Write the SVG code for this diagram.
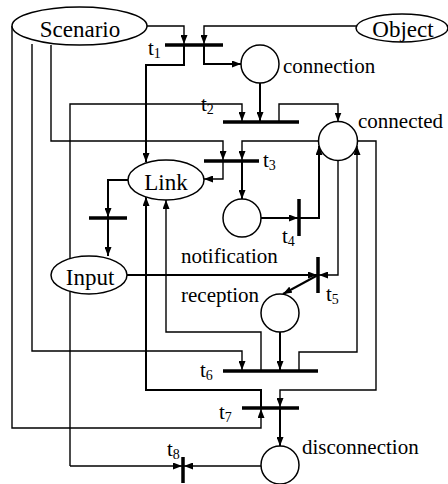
<svg xmlns="http://www.w3.org/2000/svg" width="448" height="484" viewBox="0 0 448 484">
<style>
.c{fill:none;stroke:#000;stroke-width:1.4}
.k{fill:none;stroke:#000;stroke-width:2}
.n{fill:#fff;stroke:#000;stroke-width:1.5}
.b{stroke:#000;stroke-width:3.5}
text{font-family:"Liberation Serif","Times New Roman",serif;fill:#000}
.e{font-size:23px;text-anchor:middle}
.p{font-size:21px}
.t{font-size:21px}
.s{font-size:14px}
</style>
<defs>
<marker id="a" viewBox="0 0 9 7" refX="9" refY="3.5" markerWidth="9" markerHeight="7" markerUnits="userSpaceOnUse" orient="auto"><path d="M0,0 L9,3.5 L0,7 z" fill="#000"/></marker>
</defs>
<rect width="448" height="484" fill="#fff"/>
<g id="connectors">
<path class="c" d="M147,26 H184 V44" marker-end="url(#a)"/>
<path class="c" d="M356,26 H204 V44" marker-end="url(#a)"/>
<path class="k" d="M204,45 V64 H241" marker-end="url(#a)"/>
<path class="k" d="M184,45 V65 H146 V162" marker-end="url(#a)"/>
<path class="c" d="M70,466 V104 H242 V121" marker-end="url(#a)"/>
<path class="c" d="M70,466 H182" marker-end="url(#a)"/>
<path class="k" d="M260,83 V121" marker-end="url(#a)"/>
<path class="c" d="M279,122 V104 H338 V121.5" marker-end="url(#a)"/>
<path class="c" d="M51,45 V141 H223 V160" marker-end="url(#a)"/>
<path class="c" d="M318.5,141 H242 V160" marker-end="url(#a)"/>
<path class="k" d="M242,161 V199" marker-end="url(#a)"/>
<path class="c" d="M223,161 V179 H204" marker-end="url(#a)"/>
<path class="k" d="M261,218 H298" marker-end="url(#a)"/>
<path class="k" d="M299,218 H319 V146" marker-end="url(#a)"/>
<path class="c" d="M338,160.5 V275 H319" marker-end="url(#a)"/>
<path class="k" d="M127,275 H317" marker-end="url(#a)"/>
<path class="k" d="M318,275 L283,294" marker-end="url(#a)"/>
<path class="k" d="M280,332 V370" marker-end="url(#a)"/>
<path class="c" d="M32,44 V351 H242 V370" marker-end="url(#a)"/>
<path class="c" d="M261,371 V332 H166 V200" marker-end="url(#a)"/>
<path class="c" d="M299,371 V352 H357 V146" marker-end="url(#a)"/>
<path class="c" d="M357.5,141 H376 V390 H280 V407" marker-end="url(#a)"/>
<path class="k" d="M261,408 V390 H146 V197" marker-end="url(#a)"/>
<path class="c" d="M12,26 V428 H261 V409" marker-end="url(#a)"/>
<path class="k" d="M280,408 V446" marker-end="url(#a)"/>
<path class="c" d="M261,466 H184" marker-end="url(#a)"/>
<path class="k" d="M128,180 H108 V217" marker-end="url(#a)"/>
<path class="k" d="M108,218 V256" marker-end="url(#a)"/>
</g>
<g id="Scenario"><ellipse class="n" cx="79.5" cy="26" rx="67.5" ry="19"/><text class="e" x="80" y="37">Scenario</text></g>
<g id="Object"><ellipse class="n" cx="402" cy="28" rx="46" ry="14"/><text class="e" x="403" y="37">Object</text></g>
<g id="Link"><ellipse class="n" cx="166" cy="180" rx="38" ry="20"/><text class="e" x="166" y="190">Link</text></g>
<g id="Input"><ellipse class="n" cx="89" cy="275" rx="38" ry="19"/><text class="e" x="90" y="285">Input</text></g>
<g id="connection"><circle class="n" cx="260" cy="64" r="19"/><text class="p" x="283" y="73">connection</text></g>
<g id="connected"><circle class="n" cx="338" cy="141" r="19.5"/><text class="p" x="358" y="128">connected</text></g>
<g id="notification"><circle class="n" cx="242" cy="218" r="19"/><text class="p" x="181" y="263">notification</text></g>
<g id="reception"><circle class="n" cx="280" cy="313" r="19"/><text class="p" x="181" y="302">reception</text></g>
<g id="disconnection"><circle class="n" cx="280" cy="465" r="19"/><text class="p" x="302" y="454">disconnection</text></g>
<g id="t1"><line class="b" x1="165" y1="45" x2="223" y2="45"/><text class="t" x="148" y="55">t<tspan class="s" dy="3">1</tspan></text></g>
<g id="t2"><line class="b" x1="223" y1="122" x2="299" y2="122"/><text class="t" x="201" y="111">t<tspan class="s" dy="3">2</tspan></text></g>
<g id="t3"><line class="b" x1="204" y1="161" x2="259" y2="161"/><text class="t" x="263" y="167">t<tspan class="s" dy="3">3</tspan></text></g>
<g id="t4"><line class="b" x1="299" y1="199" x2="299" y2="236"/><text class="t" x="282" y="243">t<tspan class="s" dy="3">4</tspan></text></g>
<g id="t5"><line class="b" x1="318" y1="257" x2="318" y2="293"/><text class="t" x="326" y="301">t<tspan class="s" dy="3">5</tspan></text></g>
<g id="t6"><line class="b" x1="223" y1="371" x2="318" y2="371"/><text class="t" x="200" y="377">t<tspan class="s" dy="3">6</tspan></text></g>
<g id="t7"><line class="b" x1="242" y1="408" x2="299" y2="408"/><text class="t" x="219" y="419">t<tspan class="s" dy="3">7</tspan></text></g>
<g id="t8"><line class="b" x1="183" y1="457" x2="183" y2="483"/><text class="t" x="167" y="456">t<tspan class="s" dy="3">8</tspan></text></g>
<g id="t_link_input"><line class="b" x1="89" y1="218" x2="127" y2="218"/></g>
</svg>
